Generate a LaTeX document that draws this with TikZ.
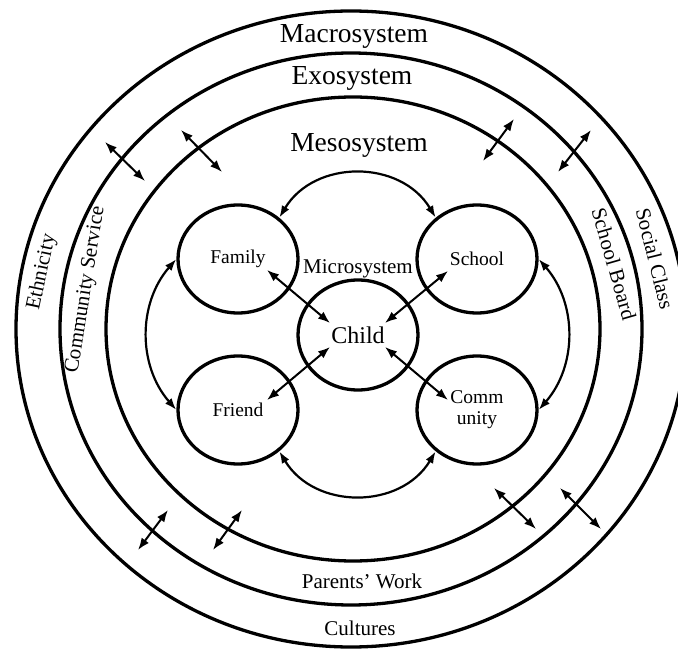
\documentclass[tikz,border=0pt]{standalone}
\usepackage{fontspec}
\setmainfont{Liberation Serif}
\usetikzlibrary{arrows.meta,shapes.geometric}
\begin{document}
\begin{tikzpicture}[x=1pt,y=1pt,
  ring/.style={line width=3.3pt},
  sys/.style={ellipse, draw, line width=3.3pt, minimum width=120pt, minimum height=108pt, inner sep=0pt, align=center, font=\fontsize{19.5}{23}\selectfont},
  dbl/.style={line width=2pt, {Latex[length=12pt,width=9pt]}-{Latex[length=12pt,width=9pt]}},
  loop/.style={line width=2.2pt, {Latex[length=12pt,width=8.5pt]}-{Latex[length=12pt,width=8.5pt]}},
  big/.style={font=\fontsize{27.5}{30}\selectfont, inner sep=0pt, anchor=base},
  lab/.style={font=\fontsize{21}{24}\selectfont, inner sep=0pt}]
\useasboundingbox (0,0) rectangle (678,649);
\fill[white] (0,0) rectangle (678,649);

% rings
\draw[ring] (351,320) ellipse [x radius=335, y radius=318];
\draw[ring] (351,320) ellipse [x radius=291, y radius=276];
\draw[ring] (353,320) ellipse [x radius=247, y radius=232];

% ring labels
\node[big] (macro) at (354,606) {Macrosystem};
\node[big] (exo) at (352,564) {Exosystem};
\node[big] (meso) at (359,497) {Mesosystem};
\node[lab, anchor=base] (work) at (362,61) {Parents’ Work};
\node[lab, anchor=base] (cult) at (360,14) {Cultures};
\node[lab, rotate=78] (eth) at (42,377) {Ethnicity};
\node[lab, rotate=81] (cserv) at (86,359) {Community Service};
\node[lab, rotate=-74] (board) at (614,385) {School Board};
\node[lab, rotate=-76] (sclass) at (655,390) {Social Class};

% micro nodes
\node[sys] (family) at (238,390) {Family};
\node[sys] (school) at (477,390) {School};
\node[sys] (friend) at (238,239) {Friend};
\node[sys] (community) at (477,239) {Comm\\[-2pt]unity};
\node[sys, minimum height=110pt, font=\fontsize{24}{28}\selectfont] (child) at (358,314) {Child};
\node[lab] (micro) at (358,380) {Microsystem};

% inner arrows
\coordinate (f1) at ([shift={(29,-11)}]family.center);
\coordinate (c1) at ([shift={(-28,12)}]child.center);
\coordinate (s1) at ([shift={(-29,-12)}]school.center);
\coordinate (c2) at ([shift={(27,12)}]child.center);
\coordinate (r1) at ([shift={(29,10)}]friend.center);
\coordinate (c3) at ([shift={(-28,-12)}]child.center);
\coordinate (m1) at ([shift={(-29,10)}]community.center);
\coordinate (c4) at ([shift={(27,-12)}]child.center);
\draw[dbl] (f1) -- (c1);
\draw[dbl] (s1) -- (c2);
\draw[dbl] (r1) -- (c3);
\draw[dbl] (m1) -- (c4);

% mesosystem loops
\draw[loop] (family.45) to[bend left=59, looseness=1.12] (school.135);
\draw[loop] (friend.-45) to[bend right=59, looseness=1.12] (community.-135);
\draw[loop] (family.180) to[bend right=41] (friend.180);
\draw[loop] (school.0) to[bend left=41] (community.0);

% crossing arrows
\coordinate (a1) at (105,507); \coordinate (b1) at (145,468);
\coordinate (a2) at (181,519); \coordinate (b2) at (222,477);
\coordinate (a3) at (514,530); \coordinate (b3) at (483,488);
\coordinate (a4) at (591,519); \coordinate (b4) at (558,477);
\coordinate (a5) at (168,139); \coordinate (b5) at (138,99);
\coordinate (a6) at (242,139); \coordinate (b6) at (213,99);
\coordinate (a7) at (494,161); \coordinate (b7) at (536,120);
\coordinate (a8) at (560,161); \coordinate (b8) at (601,120);
\foreach \i in {1,...,8} {\draw[dbl] (a\i) -- (b\i);}
\end{tikzpicture}
\end{document}
